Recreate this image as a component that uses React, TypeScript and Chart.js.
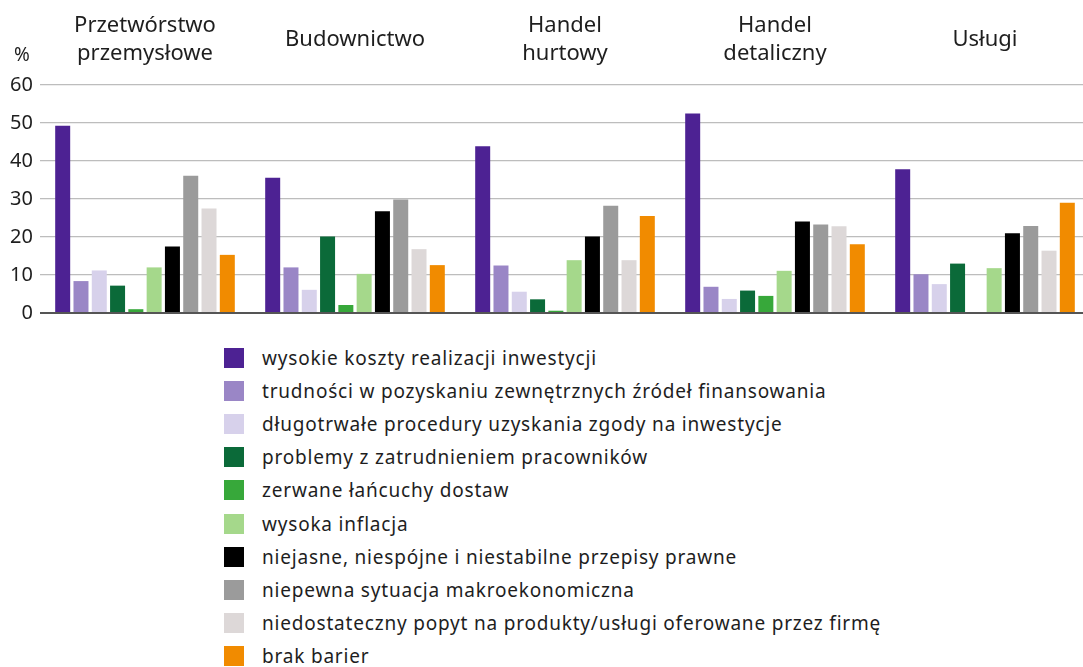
import React, { useEffect, useRef } from "react";
import { Chart, registerables } from "chart.js";

Chart.register(...registerables);

const categories: (string | string[])[] = [
  ["Przetwórstwo", "przemysłowe"],
  "Budownictwo",
  ["Handel", "hurtowy"],
  ["Handel", "detaliczny"],
  "Usługi",
];

const yTicks = [0, 10, 20, 30, 40, 50, 60];

const seriesLabels = [
  "wysokie koszty realizacji inwestycji",
  "trudności w pozyskaniu zewnętrznych źródeł finansowania",
  "długotrwałe procedury uzyskania zgody na inwestycje",
  "problemy z zatrudnieniem pracowników",
  "zerwane łańcuchy dostaw",
  "wysoka inflacja",
  "niejasne, niespójne i niestabilne przepisy prawne",
  "niepewna sytuacja makroekonomiczna",
  "niedostateczny popyt na produkty/usługi oferowane przez firmę",
  "brak barier",
];

const seriesColors = [
  "#4d2293",
  "#9a86c6",
  "#d7d1eb",
  "#0b6a39",
  "#37a83a",
  "#a5d88b",
  "#000000",
  "#9b9b9b",
  "#ddd8d8",
  "#f18b00",
];

const highCosts = [49.3, 35.6, 43.9, 52.5, 37.8];
const financing = [8.4, 12.0, 12.5, 6.9, 10.2];
const procedures = [11.2, 6.1, 5.6, 3.7, 7.6];
const staffing = [7.2, 20.1, 3.6, 5.9, 13.0];
const supplyChains = [1.0, 2.1, 0.6, 4.5, null];
const inflation = [12.0, 10.3, 13.9, 11.1, 11.8];
const regulations = [17.5, 26.8, 20.1, 24.1, 21.0];
const macro = [36.1, 29.9, 28.2, 23.3, 22.9];
const demand = [27.5, 16.8, 13.9, 22.8, 16.4];
const noBarriers = [15.3, 12.6, 25.5, 18.1, 29.0];

const seriesValues = [
  highCosts,
  financing,
  procedures,
  staffing,
  supplyChains,
  inflation,
  regulations,
  macro,
  demand,
  noBarriers,
];

const FONT = "'Noto Sans', 'Open Sans', sans-serif";
const TEXT = "#1e1e1e";

const percentPlugin = {
  id: "percentLabel",
  afterDraw(chart: any) {
    const { ctx, chartArea } = chart;
    ctx.save();
    ctx.font = `19px ${FONT}`;
    ctx.fillStyle = TEXT;
    ctx.textAlign = "center";
    ctx.textBaseline = "middle";
    ctx.fillText("%", chartArea.left - 18, chartArea.top - 29);
    ctx.restore();
  },
};

export default function App() {
  const canvasRef = useRef<HTMLCanvasElement | null>(null);

  useEffect(() => {
    if (!canvasRef.current) return;
    const chart = new Chart(canvasRef.current, {
      type: "bar",
      data: {
        labels: categories as any,
        datasets: seriesLabels.map((label, i) => ({
          label,
          data: seriesValues[i] as any,
          backgroundColor: seriesColors[i],
          borderWidth: 0,
          categoryPercentage: 0.871,
          barPercentage: 0.82,
        })),
      },
      options: {
        animation: false,
        responsive: false,
        maintainAspectRatio: false,
        layout: { padding: { top: 0, left: 0, right: 0, bottom: 0 } },
        plugins: {
          legend: { display: false },
          tooltip: { enabled: false },
          title: { display: false },
        },
        scales: {
          x: {
            position: "top",
            grid: { display: false, drawTicks: false },
            border: { display: false },
            ticks: {
              color: TEXT,
              font: { family: FONT, size: 22, lineHeight: 1.3 },
              padding: 31,
              crossAlign: "center",
              maxRotation: 0,
              autoSkip: false,
            },
            afterFit(scale: any) {
              scale.height = 85;
            },
          },
          y: {
            min: 0,
            max: 60,
            afterBuildTicks(scale: any) {
              scale.ticks = yTicks.map((v) => ({ value: v }));
            },
            grid: {
              drawTicks: false,
              color: (ctx: any) => (ctx.tick && ctx.tick.value === 0 ? "#555555" : "#bdbdbd"),
              lineWidth: (ctx: any) => (ctx.tick && ctx.tick.value === 0 ? 2 : 1.2),
            },
            border: { display: false },
            ticks: {
              color: TEXT,
              font: { family: FONT, size: 20 },
              padding: 7,
            },
            afterFit(scale: any) {
              scale.width = 40;
            },
          },
        },
      },
      plugins: [percentPlugin],
    });
    return () => chart.destroy();
  }, []);

  return (
    <div
      style={{
        position: "absolute",
        left: 0,
        top: 0,
        width: 1083,
        height: 667,
        overflow: "hidden",
        background: "#ffffff",
        fontFamily: FONT,
      }}
    >
      <div style={{ width: 1090, height: 332 }}>
        <canvas ref={canvasRef} width={1090} height={332} style={{ display: "block" }} />
      </div>
      <div style={{ position: "absolute", left: 224, top: 341 }}>
        {seriesLabels.map((label, i) => (
          <div
            key={label}
            style={{ display: "flex", alignItems: "center", height: 33.2, whiteSpace: "nowrap" }}
          >
            <span
              style={{
                width: 20,
                height: 20,
                background: seriesColors[i],
                display: "inline-block",
                marginRight: 18,
                flex: "none",
              }}
            />
            <span style={{ fontSize: 19, letterSpacing: "0.8px", color: TEXT, lineHeight: "20px" }}>
              {label}
            </span>
          </div>
        ))}
      </div>
    </div>
  );
}
